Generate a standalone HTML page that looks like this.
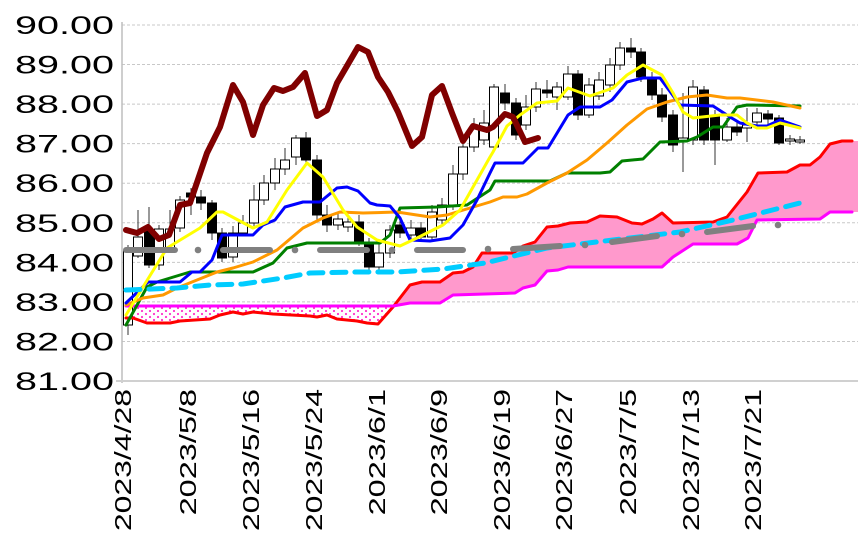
<!DOCTYPE html>
<html><head><meta charset="utf-8">
<style>
html,body{margin:0;padding:0;background:#fff;}
svg{display:block;}
text{font-family:"Liberation Sans",sans-serif;}
</style></head>
<body>
<svg id="c" width="865" height="540" viewBox="0 0 865 540" xmlns="http://www.w3.org/2000/svg">
<defs>
<pattern id="dots" width="8" height="6" patternUnits="userSpaceOnUse">
<rect width="8" height="6" fill="#fff"/>
<circle cx="2" cy="2" r="1.1" fill="#ff33cc"/>
<circle cx="6" cy="5" r="1.1" fill="#ff33cc"/>
</pattern>
<clipPath id="left"><rect x="0" y="0" width="394" height="540"/></clipPath>
<clipPath id="right"><rect x="393" y="0" width="500" height="540"/></clipPath>
</defs>
<g id="grid"></g>
<g id="cloud"></g>
<g id="candles"></g>
<g id="lines"></g>
<g id="labels"></g>
</svg>
<script>
const NS="http://www.w3.org/2000/svg";
function el(p,t,a,txt){const e=document.createElementNS(NS,t);for(const k in a)e.setAttribute(k,a[k]);if(txt!==undefined)e.textContent=txt;document.getElementById(p).appendChild(e);return e;}
const Y=v=>381-(v-81)*39.56;
for(let v=82;v<=90;v++){el('grid','line',{x1:122,x2:858,y1:Y(v),y2:Y(v),stroke:'#c8c8c8','stroke-width':1,'stroke-dasharray':'3,2'});}
el('grid','line',{x1:122,x2:122,y1:22,y2:383,stroke:'#bdbdbd','stroke-width':1.5});
el('grid','line',{x1:116,x2:858,y1:381,y2:381,stroke:'#d0d0d0','stroke-width':2});
for(let v=81;v<=90;v++){el('labels','text',{x:15,y:Y(v)+9,'font-size':25,textLength:99,lengthAdjust:'spacingAndGlyphs',fill:'#000'},v.toFixed(2));}
const xl=[[122,'2023/4/28'],[187,'2023/5/8'],[250,'2023/5/16'],[313,'2023/5/24'],[376,'2023/6/1'],[438,'2023/6/9'],[501,'2023/6/19'],[563,'2023/6/27'],[627,'2023/7/5'],[690,'2023/7/13'],[752,'2023/7/21']];
xl.forEach(([x,t])=>{el('labels','text',{x:0,y:0,transform:`translate(${x+9},389) rotate(-90)`,'text-anchor':'end','font-size':23,textLength:t.length*15.8,lengthAdjust:'spacingAndGlyphs',fill:'#000'},t);});
const red=[[126,318],[133,318],[147,323],[170,323],[180,321],[210,319],[220,315],[233,312],[243,314],[253,312],[273,314],[310,316],[317,317],[327,315],[337,319],[357,321],[367,323],[378,324],[393,307],[410,285],[422,282],[440,282],[453,273],[463,272],[473,267],[482,253],[513,253],[523,246],[535,242],[547,227],[558,226],[570,223],[587,222],[600,216],[617,217],[632,223],[642,224],[653,219],[662,213],[673,223],[713,222],[727,217],[747,192],[758,173],[787,172],[800,165],[810,165],[820,157],[830,144],[842,141],[852,141]];
const mag=[[126,306],[393,306],[410,303],[440,303],[453,295],[515,293],[523,288],[535,285],[547,271],[558,270],[568,267],[662,267],[673,257],[693,244],[737,244],[748,238],[757,220],[820,219],[830,212],[852,212]];
const ps=a=>a.map(p=>p.join(',')).join(' ');
const poly=red.concat([[858,141],[858,212]]).concat(mag.slice().reverse());
el('cloud','polygon',{points:ps(poly),fill:'#ff99cc','clip-path':'url(#right)'});
el('cloud','polygon',{points:ps(poly),fill:'url(#dots)','clip-path':'url(#left)'});
const C=[[128,251,325,0,245,335],[138,237,256,0,210,258],[149,231,265,1,207,268],[159,229,265,0,225,270],[170,229,248,0,210,250],[180,200,228,0,196,232],[191,193,197,1,188,215],[201,197,203,1,190,210],[212,203,233,1,200,240],[222,233,258,1,228,262],[233,233,257,0,226,262],[243,223,233,0,215,236],[254,200,223,0,185,226],[264,183,200,0,175,205],[275,169,183,0,158,190],[285,160,169,0,148,175],[296,138,157,0,135,165],[306,138,160,1,132,165],[317,160,215,1,155,222],[327,215,225,1,205,232],[338,219,225,0,212,230],[348,222,227,0,215,232],[359,222,242,1,215,246],[369,242,267,1,238,272],[379,253,267,0,240,270],[390,230,253,0,225,258],[400,225,233,1,220,238],[411,228,235,0,220,240],[421,228,237,1,222,242],[432,212,237,0,205,240],[442,205,220,0,198,225],[453,174,205,0,165,210],[463,147,174,0,138,180],[474,127,147,0,118,152],[484,123,140,0,110,145],[494,87,147,0,84,150],[505,93,103,1,84,110],[516,103,135,1,98,140],[526,107,125,0,95,130],[536,89,107,0,82,112],[547,90,93,1,80,98],[557,87,97,0,82,110],[568,74,97,0,66,100],[578,74,115,1,70,120],[589,85,115,0,78,118],[599,80,96,0,72,100],[610,65,85,0,58,92],[620,48,65,0,42,70],[631,48,52,1,38,58],[641,52,77,1,48,82],[652,77,95,1,72,100],[662,95,117,1,88,122],[673,115,145,1,110,152],[683,138,141,0,93,172],[693,87,140,0,80,145],[704,90,140,1,86,145],[715,117,140,1,110,165],[727,127,140,0,118,142],[737,127,132,1,122,136],[747,125,128,0,108,142],[757,113,122,0,108,125],[768,114,119,1,110,125],[779,118,143,1,115,145],[790,139,141,0,135,145],[800,140,142,0,136,144]];
C.forEach(([x,t,b,f,wt,wb])=>{
 el('candles','line',{x1:x,x2:x,y1:wt,y2:wb,stroke:'#333','stroke-width':1});
 el('candles','rect',{x:x-4.5,y:t,width:9,height:Math.max(b-t,1.5),fill:f?'#000':'#fff',stroke:'#000','stroke-width':1});
});
function line(pts,col,w,extra){const a={points:ps(pts),fill:'none',stroke:col,'stroke-width':w,'stroke-linejoin':'round','stroke-linecap':'round'};Object.assign(a,extra||{});el('lines','polyline',a);}
line(red,'#ff0000',3);
line(mag,'#ff00ff',3);
line([[126,325],[147,287],[157,282],[190,272],[253,272],[273,263],[287,248],[307,243],[380,243],[390,235],[400,208],[437,207],[467,205],[490,190],[495,181],[550,181],[567,173],[600,173],[610,172],[622,161],[643,159],[660,142],[687,141],[697,137],[713,127],[723,127],[737,107],[747,105],[800,106]],'#008000',3);
line([[126,305],[143,298],[163,295],[177,288],[197,280],[217,272],[233,268],[253,262],[277,250],[303,228],[323,218],[340,212],[363,213],[397,212],[430,217],[447,215],[470,208],[490,202],[503,197],[517,197],[527,194],[547,183],[567,173],[587,160],[607,143],[627,125],[647,109],[667,102],[687,97],[707,95],[727,98],[740,98],[773,102],[800,108]],'#ff9900',3);
line([[126,303],[148,282],[180,282],[192,272],[200,272],[212,260],[222,235],[253,235],[263,225],[275,220],[285,207],[303,202],[320,202],[337,188],[347,187],[358,191],[370,203],[377,205],[390,206],[400,218],[410,240],[430,241],[450,238],[463,225],[477,200],[490,173],[495,163],[523,163],[538,148],[548,148],[568,115],[580,107],[600,107],[612,100],[627,82],[643,78],[660,78],[680,105],[713,106],[730,117],[740,123],[757,126],[767,126],[780,120],[800,127]],'#0000ff',3);
line([[126,315],[143,287],[167,248],[200,228],[217,212],[223,212],[253,228],[267,222],[287,190],[307,163],[323,177],[343,210],[357,227],[377,240],[400,246],[417,238],[443,225],[460,210],[477,180],[490,157],[493,152],[507,126],[520,115],[537,103],[557,101],[568,88],[590,96],[613,88],[627,75],[643,65],[662,75],[673,93],[683,112],[693,118],[720,115],[737,115],[747,123],[757,128],[767,128],[780,123],[800,128]],'#ffff00',3);
line([[126,230],[137,233],[148,227],[159,239],[169,235],[180,205],[190,203],[207,153],[220,127],[233,85],[243,102],[253,135],[263,105],[274,88],[283,91],[293,87],[305,73],[317,116],[327,110],[337,83],[358,47],[368,52],[378,77],[388,92],[398,112],[412,146],[422,137],[432,95],[442,86],[452,113],[463,141],[473,126],[487,130],[493,127],[505,114],[513,117],[525,142],[538,138]],'#800000',6);
line([[126,290],[177,288],[210,285],[243,284],[283,278],[310,273],[357,272],[397,272],[443,269],[485,263],[547,248],[613,240],[680,232],[733,220],[800,203]],'#00ccff',5,{'stroke-dasharray':'14,9','stroke-linecap':'round'});
[[126,250,175,250],[223,250,270,250],[320,250,367,250],[417,250,463,250],[513,249,560,246],[612,242,657,236],[707,232,753,226]].forEach(([a,b,c,d])=>el('lines','line',{x1:a,y1:b,x2:c,y2:d,stroke:'#808080','stroke-width':6,'stroke-linecap':'round'}));
[[198,250],[295,250],[392,250],[488,249],[585,245],[682,234],[778,225]].forEach(([x,y])=>el('lines','circle',{cx:x,cy:y,r:3.3,fill:'#808080'}));
</script>
</body></html>
